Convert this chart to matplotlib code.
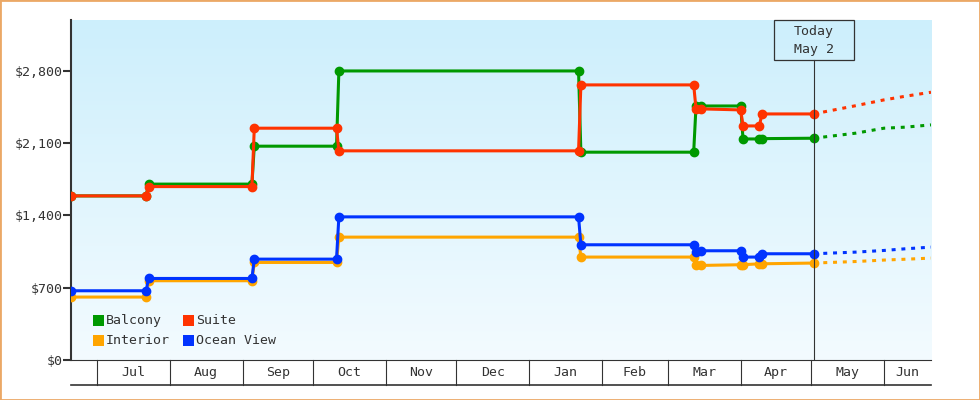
import numpy as np
import pandas as pd
import matplotlib
matplotlib.use("Agg")
import matplotlib.pyplot as plt
import matplotlib.dates as mdates
from matplotlib.patches import Rectangle
from matplotlib.colors import LinearSegmentedColormap

# price history (observed), one row per change point
hist_dates = pd.to_datetime([
    "2022-06-20", "2022-07-22", "2022-07-23", "2022-09-05", "2022-09-06",
    "2022-10-11", "2022-10-12", "2023-01-22", "2023-01-23", "2023-03-12",
    "2023-03-13", "2023-03-15", "2023-04-01", "2023-04-02", "2023-04-09",
    "2023-04-10", "2023-05-02"])
balcony = [1588, 1588, 1702, 1702, 2069, 2069, 2797, 2797, 2011, 2011,
           2458, 2458, 2458, 2139, 2139, 2142, 2146]
suite = [1588, 1588, 1678, 1678, 2243, 2243, 2024, 2024, 2662, 2662,
         2430, 2430, 2420, 2265, 2265, 2381, 2381]
interior = [609, 609, 767, 767, 944, 944, 1189, 1189, 996, 996,
            915, 915, 922, 922, 931, 931, 938]
ocean_view = [670, 670, 789, 789, 976, 976, 1385, 1385, 1115, 1115,
              1044, 1057, 1057, 996, 996, 1028, 1028]

# forecast (dotted part after today)
fc_dates = pd.to_datetime(["2023-05-02", "2023-05-20", "2023-06-01", "2023-06-10", "2023-06-21"])
fc_balcony = [2146, 2195, 2243, 2253, 2275]
fc_suite = [2381, 2461, 2517, 2552, 2591]
fc_interior = [938, 953, 967, 975, 986]
fc_ocean_view = [1028, 1044, 1060, 1076, 1092]

today = pd.Timestamp("2023-05-02")
x_start, x_end = pd.Timestamp("2022-06-20"), pd.Timestamp("2023-06-21")
y_ticks = [0, 700, 1400, 2100, 2800]
y_max = 3290

GREEN, RED, ORANGE, BLUE = "#009900", "#ff3300", "#ffa500", "#0033ff"
DARK = "#333333"
FONT = "DejaVu Sans Mono"
FS = 9.5

W, H = 980, 400
L, R, T, B = 71, 931, 20, 360


def fx(px):
    return px / W


def fy(py):
    return 1 - py / H


fig = plt.figure(figsize=(W / 100, H / 100), dpi=100)
fig.patch.set_facecolor("white")
fig.add_artist(Rectangle((0, 0), 1, 1, transform=fig.transFigure, fill=False,
                         edgecolor="#eba866", lw=2))

ax = fig.add_axes([fx(L), fy(B), (R - L) / W, (B - T) / H])

# gradient background
cmap = LinearSegmentedColormap.from_list("bg", ["#cdeffc", "#f3fbff"])
ax.imshow(np.linspace(0, 1, 256).reshape(-1, 1), aspect="auto", cmap=cmap,
          extent=[0, 1, 0, 1], transform=ax.transAxes, zorder=0)

series = [
    (balcony, fc_balcony, GREEN),
    (interior, fc_interior, ORANGE),
    (suite, fc_suite, RED),
    (ocean_view, fc_ocean_view, BLUE),
]
for vals, fc_vals, col in series:
    ax.plot(hist_dates, vals, color=col, lw=2.2, marker="o", ms=6,
            solid_joinstyle="miter", zorder=3)
    ax.plot(fc_dates, fc_vals, color=col, lw=2.2, ls=(0, (1.3, 1.9)), zorder=3)

ax.set_xlim(x_start, x_end)
ax.set_ylim(0, y_max)

# spines / y ticks
for s in ["top", "right"]:
    ax.spines[s].set_visible(False)
ax.spines["left"].set_linewidth(1.5)
ax.spines["left"].set_color(DARK)
ax.spines["bottom"].set_linewidth(0.8)
ax.spines["bottom"].set_color(DARK)
ax.set_yticks(y_ticks)
ax.set_yticklabels(["${:,}".format(v) for v in y_ticks], fontsize=FS,
                   family=FONT, color=DARK)
ax.tick_params(axis="y", length=5.5, width=1.5, color=DARK, pad=0.8)
ax.set_xticks([])

# month band under the plot
band = 25 / (B - T)
trans = ax.get_xaxis_transform()
months = pd.date_range("2022-07-01", "2023-06-01", freq="MS")
for m in months:
    ax.plot([m, m], [0, -band], color=DARK, lw=0.8, transform=trans, clip_on=False)
ax.plot([0, 1], [-band, -band], color=DARK, lw=1.2, transform=ax.transAxes, clip_on=False)
edges = [x_start] + list(months) + [x_end]
for a, b in zip(edges[1:-1], edges[2:]):
    mid = a + (b - a) / 2
    ax.text(mid, -band / 2, a.strftime("%b"), transform=trans, ha="center",
            va="center", fontsize=FS, family=FONT, color=DARK)

# today marker
x0, x1 = mdates.date2num(x_start), mdates.date2num(x_end)
today_px = L + (R - L) * (mdates.date2num(today) - x0) / (x1 - x0)
box_w, box_h = 80, 40
ax.axvline(today, ymin=0, ymax=1 - box_h / (B - T), color=DARK, lw=0.8, zorder=4)
fig.add_artist(Rectangle((fx(today_px - box_w / 2), fy(T + box_h)), box_w / W, box_h / H,
                         transform=fig.transFigure, fill=False, edgecolor=DARK, lw=0.9))
fig.text(fx(today_px), fy(T + 12), "Today", ha="center", va="center",
         fontsize=FS, family=FONT, color=DARK)
fig.text(fx(today_px), fy(T + 30), "May " + str(today.day), ha="center", va="center",
         fontsize=FS, family=FONT, color=DARK)

# legend, two columns
legend_items = [("Balcony", GREEN), ("Suite", RED), ("Interior", ORANGE), ("Ocean View", BLUE)]
for i, (name, col) in enumerate(legend_items):
    lx = 93 + (i % 2) * 90
    ly = 315 + (i // 2) * 20
    fig.add_artist(Rectangle((fx(lx), fy(ly + 11)), 11 / W, 11 / H,
                             transform=fig.transFigure, color=col, lw=0))
    fig.text(fx(lx + 13), fy(ly + 5.5), name, ha="left", va="center",
             fontsize=FS, family=FONT, color=DARK)

fig.savefig("out.png", dpi=100)
